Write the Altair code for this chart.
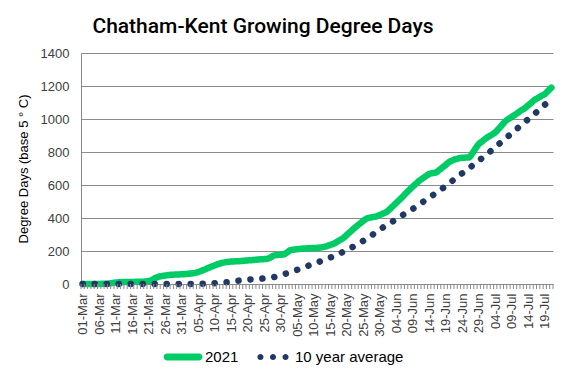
import json
import altair as alt
import pandas as pd

# ---- data -------------------------------------------------------------
dates = pd.date_range("2021-03-01", "2021-07-21", freq="D")
date_labels = [d.strftime("%d-%b") for d in dates]
series_names = ["2021", "10 year average"]

gdd_2021 = [
    # Mar
    0, 0, 0, 0, 0, 0, 1, 1,
    3, 6, 9, 10, 11, 12, 12, 12, 13, 13, 14, 15,
    18, 25, 36, 44, 48, 51, 54, 56, 57, 58, 59,
    # Apr
    60, 62, 64, 67, 72, 80, 88, 97, 105, 113,
    121, 127, 131, 134, 136, 137, 138, 139, 141, 143,
    144, 146, 148, 150, 151, 153, 162, 173, 176, 177,
    # May
    180, 192, 205, 208, 211, 213, 215, 216, 217, 218,
    219, 221, 224, 230, 237, 244, 255, 267, 279, 297,
    315, 333, 350, 366, 382, 396, 402, 406, 410, 418, 427,
    # Jun
    436, 453, 472, 491, 510, 530, 551, 571, 590, 608,
    626, 640, 654, 667, 672, 676, 690, 706, 722, 739,
    749, 757, 762, 765, 766, 767, 790, 820, 848, 864,
    # Jul
    880, 894, 905, 919, 940, 962, 985, 1000, 1013, 1026,
    1040, 1054, 1066, 1083, 1100, 1117, 1128, 1140, 1151, 1170, 1190,
]

gdd_avg = [
    # Mar
    0, 0, 0, 0, 0, 0, 0, 0, 0, 0,
    0, 0, 0, 0, 0, 0, 0, 0, 0, 0,
    0, 0, 0, 0, 0, 0, 0, 0, 0, 0, 0,
    # Apr
    0, 0, 0, 0, 0, 1, 1, 2, 3, 5,
    6, 8, 10, 12, 14, 17, 20, 22, 24, 27,
    28, 30, 31, 32, 34, 36, 39, 42, 48, 54,
    # May
    60, 66, 72, 79, 86, 94, 101, 108, 115, 122,
    129, 137, 145, 152, 160, 168, 176, 185, 196, 207,
    217, 226, 236, 248, 261, 274, 288, 301, 315, 329, 343,
    # Jun
    356, 368, 380, 393, 405, 418, 430, 443, 455, 468,
    482, 496, 510, 524, 537, 551, 565, 579, 594, 609,
    625, 640, 656, 671, 686, 701, 716, 732, 747, 763,
    # Jul
    779, 795, 812, 829, 846, 863, 880, 897, 914, 931,
    948, 965, 982, 999, 1016, 1033, 1050, 1068, 1086, 1104, 1122,
]

y_ticks = [0, 200, 400, 600, 800, 1000, 1200, 1400]
x_label_days = list(range(0, len(dates), 5))

# ---- table --------------------------------------------------------------
rows = []
for i in range(len(dates)):
    rows.append({"day": i, "series": series_names[0], "gdd": gdd_2021[i]})
for i in range(len(dates)):
    rows.append({"day": i, "series": series_names[1], "gdd": gdd_avg[i]})
df = pd.DataFrame(rows)

# category boundaries (for the small tick marks between days)
bounds = pd.DataFrame({"b": [k - 0.5 for k in range(len(dates) + 1)]})

GREEN = "#00CC66"
NAVY = "#1F3864"
GRID = "#8A8A8A"
TEXT = "#404040"
FONT = "Liberation Sans"

W, H = 472, 231
x_scale = alt.Scale(domain=[-0.5, len(dates) - 0.5], nice=False, zero=False)
y_scale = alt.Scale(domain=[0, 1400], nice=False)
color_scale = alt.Scale(domain=series_names, range=[GREEN, NAVY])

label_expr = json.dumps(date_labels) + "[datum.value]"

x_axis = alt.Axis(
    title=None,
    values=x_label_days,
    labelExpr=label_expr,
    labelAngle=-90,
    labelFont=FONT,
    labelFontSize=13,
    labelColor=TEXT,
    labelPadding=9,
    ticks=False,
    grid=False,
    domainColor=GRID,
    labelOverlap=False,
)

y_axis = alt.Axis(
    title="Degree Days (base 5 ° C)",
    titleFont=FONT,
    titleFontSize=13,
    titleFontWeight="normal",
    titleColor="#000000",
    titlePadding=10,
    values=y_ticks,
    format="d",
    labelFont=FONT,
    labelFontSize=13,
    labelColor=TEXT,
    labelPadding=12,
    ticks=False,
    grid=True,
    gridColor=GRID,
    domainColor=GRID,
)

# legend glyphs: a thick bar and three round dots (coords in [-1, 1])
BAR = "M-0.84,-0.18 L0.84,-0.18 A0.18,0.18 0 0,1 0.84,0.18 L-0.84,0.18 A0.18,0.18 0 0,1 -0.84,-0.18 Z"
def _dot(cx, r=0.16):
    return f"M{cx - r},0 A{r},{r} 0 1,0 {cx + r},0 A{r},{r} 0 1,0 {cx - r},0 Z"
DOTS = " ".join(_dot(c) for c in (-0.66, 0.0, 0.66))

legend = alt.Legend(
    title=None,
    orient="none",
    direction="horizontal",
    legendX=83,
    legendY=285,
    symbolSize=1444,
    symbolStrokeWidth=0,
    symbolOpacity=1,
    labelFont=FONT,
    labelFontSize=15,
    labelColor="#000000",
    labelOffset=3,
    columnPadding=15,
)

legend_layer = alt.Chart(df).transform_filter("false").mark_point(
    filled=True, opacity=1, size=1444
).encode(
    x=alt.X("day:Q", scale=x_scale, axis=x_axis),
    y=alt.Y("gdd:Q", scale=y_scale, axis=y_axis),
    color=alt.Color("series:N", scale=color_scale, legend=legend, sort=series_names),
    shape=alt.Shape(
        "series:N",
        scale=alt.Scale(domain=series_names, range=[BAR, DOTS]),
        legend=legend,
        sort=series_names,
    ),
)

lines = alt.Chart(df).mark_line(
    strokeWidth=6.5, strokeCap="round", strokeJoin="round", interpolate="monotone"
).encode(
    x=alt.X("day:Q", scale=x_scale, axis=x_axis),
    y=alt.Y("gdd:Q", scale=y_scale, axis=y_axis),
    color=alt.Color("series:N", scale=color_scale, sort=series_names),
    strokeDash=alt.StrokeDash(
        "series:N",
        scale=alt.Scale(domain=series_names, range=[[1, 0], [0.1, 11.9]]),
        legend=None,
        sort=series_names,
    ),
)

minor_ticks = alt.Chart(bounds).mark_rule(color=GRID, strokeWidth=1).encode(
    x=alt.X("b:Q", scale=x_scale, axis=x_axis),
    y=alt.value(H),
    y2=alt.value(H + 5),
)

chart = (
    alt.layer(legend_layer, lines, minor_ticks)
    .properties(
        width=W,
        height=H,
        title=alt.TitleParams(
            "Chatham-Kent Growing Degree Days",
            font="Roboto",
            fontSize=21,
            fontWeight=500,
            color="#000000",
            anchor="middle",
            dx=-54,
            offset=10,
        ),
        autosize=alt.AutoSizeParams(type="none"),
        padding={"left": 73, "top": 45, "right": 6, "bottom": 86},
    )
    .configure_view(stroke=None)
)

chart.save("out.html", embed_options={"renderer": "svg", "actions": False})
